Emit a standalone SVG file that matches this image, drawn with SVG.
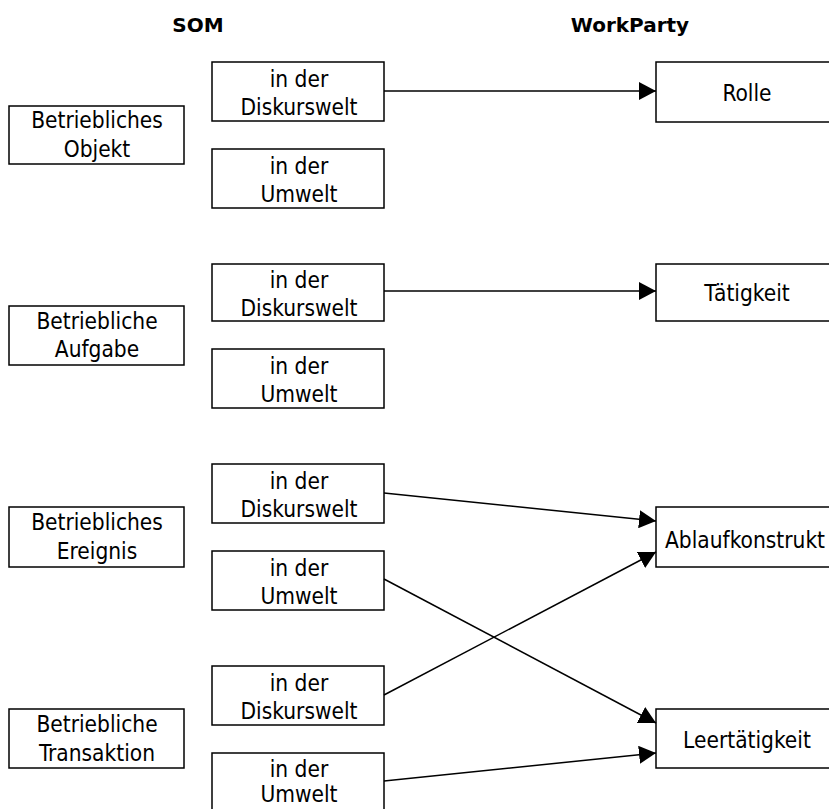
<svg xmlns="http://www.w3.org/2000/svg" width="829" height="809" viewBox="0 0 829 809">
  <style>
    .box { fill: #ffffff; stroke: #000000; stroke-width: 1.5; }
    .lbl { font-family: "DejaVu Sans Condensed", "DejaVu Sans", sans-serif; font-size: 22.5px; fill: #000000; text-anchor: middle; }
    .title { font-family: "DejaVu Sans", sans-serif; font-weight: bold; font-size: 20px; fill: #000000; text-anchor: middle; }
    .conn { stroke: #000000; stroke-width: 1.5; fill: none; marker-end: url(#arrow); }
  </style>
  <defs>
    <marker id="arrow" markerUnits="userSpaceOnUse" markerWidth="18" markerHeight="18" viewBox="0 0 18 18" refX="17" refY="9" orient="auto">
      <path d="M0,0 L17,9 L0,18 Z" fill="#000000"/>
    </marker>
  </defs>
  <rect width="829" height="809" fill="#ffffff"/>

  <!-- column headings -->
  <text class="title" x="198" y="32">SOM</text>
  <text class="title" x="630" y="32">WorkParty</text>

  <!-- SOM: business object -->
  <g id="objekt">
    <rect class="box" x="9" y="106" width="175" height="58"/>
    <text class="lbl" x="97" y="128">Betriebliches</text>
    <text class="lbl" x="97" y="157">Objekt</text>
  </g>
  <g id="objekt-diskurswelt">
    <rect class="box" x="212" y="62" width="172" height="59"/>
    <text class="lbl" x="299" y="87">in der</text>
    <text class="lbl" x="299" y="115">Diskurswelt</text>
  </g>
  <g id="objekt-umwelt">
    <rect class="box" x="212" y="149" width="172" height="59"/>
    <text class="lbl" x="299" y="174">in der</text>
    <text class="lbl" x="299" y="202">Umwelt</text>
  </g>

  <!-- SOM: business task -->
  <g id="aufgabe">
    <rect class="box" x="9" y="306" width="175" height="59"/>
    <text class="lbl" x="97" y="329">Betriebliche</text>
    <text class="lbl" x="97" y="357">Aufgabe</text>
  </g>
  <g id="aufgabe-diskurswelt">
    <rect class="box" x="212" y="264" width="172" height="57"/>
    <text class="lbl" x="299" y="288">in der</text>
    <text class="lbl" x="299" y="316">Diskurswelt</text>
  </g>
  <g id="aufgabe-umwelt">
    <rect class="box" x="212" y="349" width="172" height="59"/>
    <text class="lbl" x="299" y="374">in der</text>
    <text class="lbl" x="299" y="402">Umwelt</text>
  </g>

  <!-- SOM: business event -->
  <g id="ereignis">
    <rect class="box" x="9" y="507" width="175" height="60"/>
    <text class="lbl" x="97" y="530">Betriebliches</text>
    <text class="lbl" x="97" y="559">Ereignis</text>
  </g>
  <g id="ereignis-diskurswelt">
    <rect class="box" x="212" y="464" width="172" height="59"/>
    <text class="lbl" x="299" y="489">in der</text>
    <text class="lbl" x="299" y="517">Diskurswelt</text>
  </g>
  <g id="ereignis-umwelt">
    <rect class="box" x="212" y="551" width="172" height="59"/>
    <text class="lbl" x="299" y="576">in der</text>
    <text class="lbl" x="299" y="604">Umwelt</text>
  </g>

  <!-- SOM: business transaction -->
  <g id="transaktion">
    <rect class="box" x="9" y="709" width="175" height="59"/>
    <text class="lbl" x="97" y="732">Betriebliche</text>
    <text class="lbl" x="97" y="761">Transaktion</text>
  </g>
  <g id="transaktion-diskurswelt">
    <rect class="box" x="212" y="666" width="172" height="59"/>
    <text class="lbl" x="299" y="691">in der</text>
    <text class="lbl" x="299" y="719">Diskurswelt</text>
  </g>
  <g id="transaktion-umwelt">
    <rect class="box" x="212" y="753" width="172" height="64"/>
    <text class="lbl" x="299" y="777">in der</text>
    <text class="lbl" x="299" y="802">Umwelt</text>
  </g>

  <!-- WorkParty targets -->
  <g id="rolle">
    <rect class="box" x="656" y="62" width="182" height="60"/>
    <text class="lbl" x="747" y="101">Rolle</text>
  </g>
  <g id="taetigkeit">
    <rect class="box" x="656" y="264" width="182" height="57"/>
    <text class="lbl" x="747" y="301">Tätigkeit</text>
  </g>
  <g id="ablaufkonstrukt">
    <rect class="box" x="656" y="507" width="182" height="60"/>
    <text class="lbl" x="745" y="548">Ablaufkonstrukt</text>
  </g>
  <g id="leertaetigkeit">
    <rect class="box" x="656" y="709" width="182" height="59"/>
    <text class="lbl" x="747" y="748">Leertätigkeit</text>
  </g>

  <!-- mappings -->
  <g id="connectors">
    <line class="conn" x1="384" y1="91" x2="656" y2="91"/>
    <line class="conn" x1="384" y1="291" x2="656" y2="291"/>
    <line class="conn" x1="384" y1="493" x2="656" y2="521"/>
    <line class="conn" x1="384" y1="579" x2="656" y2="723"/>
    <line class="conn" x1="384" y1="695" x2="656" y2="552"/>
    <line class="conn" x1="384" y1="781" x2="656" y2="753"/>
  </g>
</svg>
